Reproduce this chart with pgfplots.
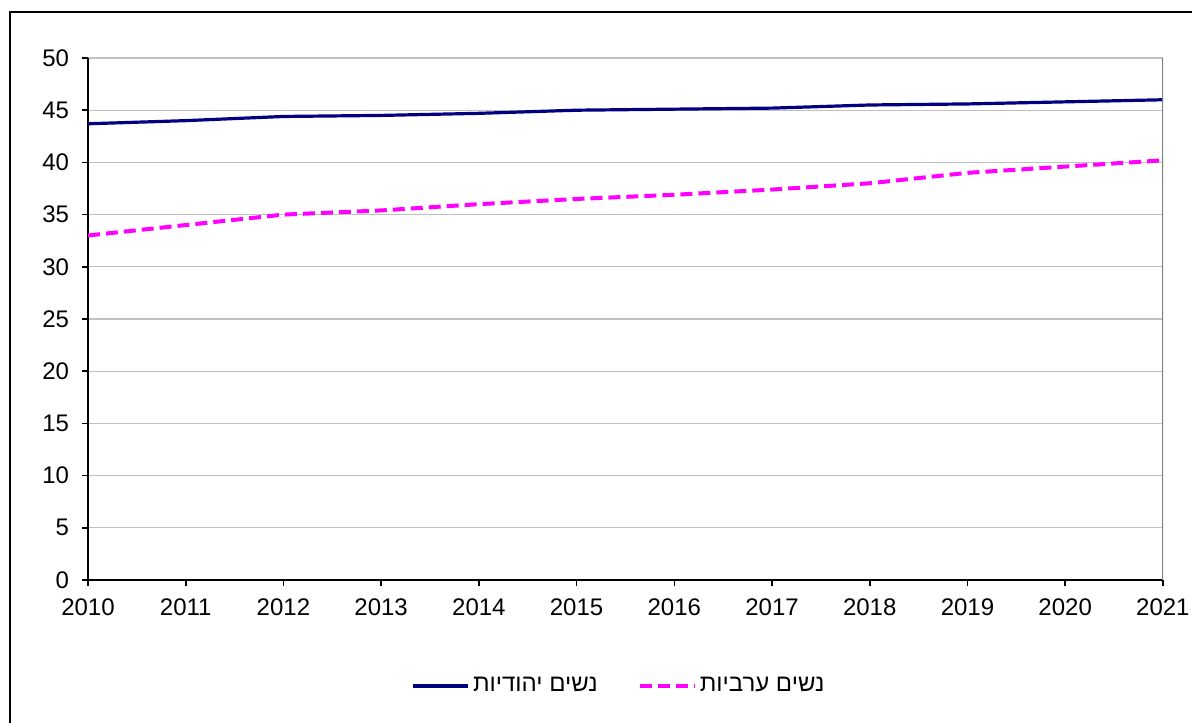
\documentclass[border=0pt]{standalone}
\usepackage{fontspec}
\setmainfont{Liberation Sans}
\newfontfamily\hebfont[Script=Hebrew]{Liberation Sans}
\TeXXeTstate=1
\usepackage{pgfplots}
\pgfplotsset{compat=1.18}
\definecolor{navyline}{RGB}{0,0,128}
\definecolor{magline}{RGB}{255,0,255}
\definecolor{gridgray}{RGB}{192,192,192}
\begin{document}
\begin{tikzpicture}
\useasboundingbox (0,0) rectangle (596pt,361pt);
\draw[line width=0.6pt] (5pt,-1pt) -- (5pt,355pt) -- (597pt,355pt);
\begin{axis}[
  at={(44pt,71pt)}, anchor=south west,
  scale only axis, width=537.5pt, height=261pt,
  xmin=2010, xmax=2021, ymin=0, ymax=50,
  xtick={2010,...,2021}, ytick={0,5,...,50},
  axis lines*=left,
  axis line style={line width=0.8pt, black},
  tick align=outside, major tick length=3pt,
  tick style={line width=0.8pt, black},
  ymajorgrids, grid style={gridgray, line width=0.6pt},
  /pgf/number format/assume math mode=true,
  /pgf/number format/1000 sep={},
  ticklabel style={font=\fontsize{12}{14}\selectfont},
  yticklabel style={xshift=-3pt},
  xticklabel style={yshift=-3pt},
  legend columns=2,
  legend style={at={(0.495,-0.203)}, anchor=center, draw=none, fill=none,
    font=\fontsize{12}{14}\selectfont,
    /tikz/every even column/.append style={column sep=18pt}},
  legend image code/.code={\draw[#1] (0cm,0cm) -- (0.95cm,0cm);},
]
\addplot[navyline, line width=1.6pt] coordinates {
 (2010,43.7) (2011,44.0) (2012,44.4) (2013,44.5) (2014,44.7) (2015,45.0)
 (2016,45.1) (2017,45.2) (2018,45.5) (2019,45.6) (2020,45.8) (2021,46.0)};
\addlegendentry{{\hebfont\beginR נשים יהודיות\endR}}
\addplot[magline, line width=2pt, dash pattern=on 6pt off 3pt] coordinates {
 (2010,33.0) (2011,34.0) (2012,35.0) (2013,35.4) (2014,36.0) (2015,36.5)
 (2016,36.9) (2017,37.4) (2018,38.0) (2019,39.0) (2020,39.6) (2021,40.2)};
\addlegendentry{{\hebfont\beginR נשים ערביות\endR}}
\draw[gray, line width=0.8pt] (rel axis cs:1,0) -- (rel axis cs:1,1);
\end{axis}
\end{tikzpicture}
\end{document}
